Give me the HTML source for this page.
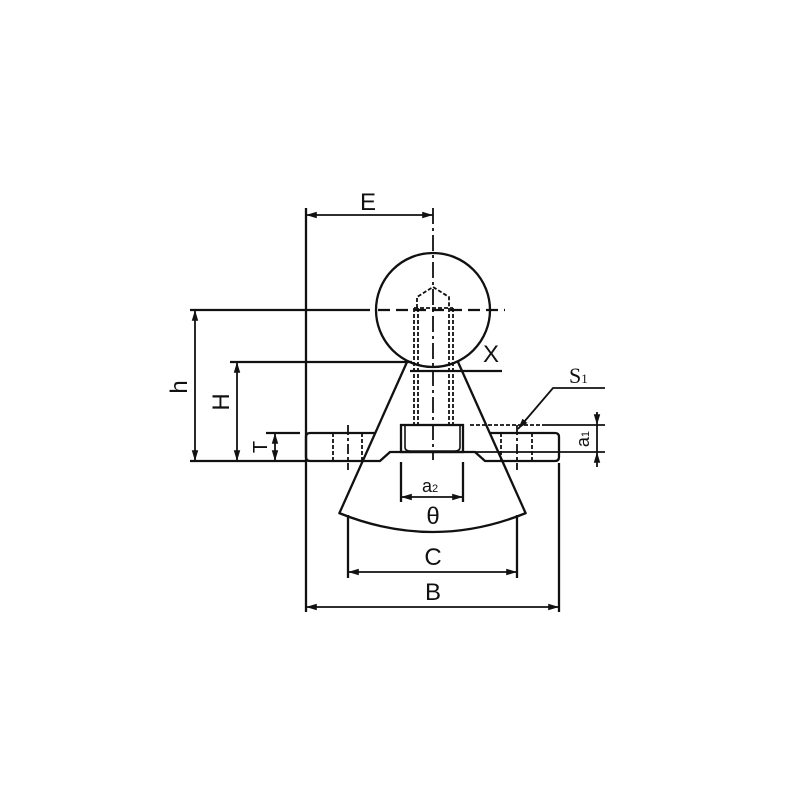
<!DOCTYPE html>
<html><head><style>body{margin:0;background:#fff}svg{display:block}</style></head><body>
<svg width="800" height="800" viewBox="0 0 800 800" xmlns="http://www.w3.org/2000/svg" fill="none" stroke="#111" stroke-width="2.3" font-family="Liberation Sans, DejaVu Sans, sans-serif">
<defs><marker id="a" viewBox="0 0 10 10" refX="10" refY="5" markerWidth="6" markerHeight="6" orient="auto-start-reverse"><path d="M0,2L10,5L0,8z" fill="#111" stroke="none"/></marker></defs>
<line x1="306" y1="208" x2="306" y2="612"/>
<line x1="190" y1="310" x2="370" y2="310"/>
<line x1="378" y1="310" x2="505" y2="310" stroke-dasharray="12,6"/>
<line x1="230" y1="362" x2="412" y2="362"/>
<line x1="266" y1="433" x2="300" y2="433"/>
<line x1="190" y1="461" x2="306" y2="461"/>
<line x1="410" y1="371" x2="502" y2="371"/>
<line x1="559" y1="463" x2="559" y2="612"/>
<line x1="348" y1="515" x2="348" y2="578"/>
<line x1="517" y1="515" x2="517" y2="578"/>
<line x1="401" y1="462" x2="401" y2="502"/>
<line x1="463" y1="462" x2="463" y2="502"/>
<line x1="433" y1="208" x2="433" y2="460" stroke-dasharray="16,4,3,4" stroke-width="1.8"/>
<circle cx="433" cy="310" r="57"/>
<g stroke-dasharray="4,2" stroke-width="1.8">
<path d="M417,308 V297 L433,287 L449,297 V308"/>
<line x1="414" y1="308" x2="453" y2="308"/>
<line x1="414" y1="308" x2="414" y2="425"/><line x1="418" y1="308" x2="418" y2="425"/>
<line x1="449" y1="308" x2="449" y2="425"/><line x1="453" y1="308" x2="453" y2="425"/>
<line x1="470" y1="425" x2="545" y2="425"/>
<line x1="333" y1="433" x2="333" y2="461"/><line x1="362" y1="433" x2="362" y2="461"/>
<line x1="501" y1="433" x2="501" y2="461"/><line x1="532" y1="433" x2="532" y2="461"/>
</g>
<line x1="348" y1="425" x2="348" y2="470" stroke-dasharray="10,3,3,3" stroke-width="1.8"/>
<line x1="517" y1="425" x2="517" y2="470" stroke-dasharray="10,3,3,3" stroke-width="1.8"/>
<rect x="401" y="425" width="62" height="27"/>
<path d="M405,426 V447 Q405,451 410,451 H455 Q460,451 460,447 V426" stroke-width="1.6"/>
<path d="M310,433 H376 M490,433 H555 Q559,433 559,437 V457 Q559,461 555,461 H485 L475,452 H390 L380,461 H310 Q306,461 306,457 V437 Q306,433 310,433"/>
<line x1="407" y1="362" x2="339" y2="514"/>
<line x1="458" y1="362" x2="526" y2="514"/>
<path d="M339,513 Q433,551 526,513"/>
<line x1="306" y1="215" x2="433" y2="215" marker-start="url(#a)" marker-end="url(#a)" stroke-width="1.8"/>
<line x1="195" y1="310" x2="195" y2="461" marker-start="url(#a)" marker-end="url(#a)" stroke-width="1.8"/>
<line x1="237" y1="362" x2="237" y2="461" marker-start="url(#a)" marker-end="url(#a)" stroke-width="1.8"/>
<line x1="275" y1="433" x2="275" y2="461" marker-start="url(#a)" marker-end="url(#a)" stroke-width="1.8"/>
<line x1="348" y1="572" x2="517" y2="572" marker-start="url(#a)" marker-end="url(#a)" stroke-width="1.8"/>
<line x1="306" y1="607" x2="559" y2="607" marker-start="url(#a)" marker-end="url(#a)" stroke-width="1.8"/>
<line x1="401" y1="497" x2="463" y2="497" marker-start="url(#a)" marker-end="url(#a)" stroke-width="1.8"/>
<line x1="597" y1="412" x2="597" y2="425" marker-end="url(#a)" stroke-width="1.8"/>
<line x1="597" y1="467" x2="597" y2="452" marker-end="url(#a)" stroke-width="1.8"/>
<line x1="597" y1="425" x2="597" y2="452" stroke-width="1.8"/>
<line x1="475" y1="452" x2="605" y2="452" stroke-width="1.8"/>
<line x1="545" y1="425" x2="605" y2="425" stroke-width="1.8"/>
<path d="M605,388 H553 L518,429" marker-end="url(#a)" stroke-width="1.8"/>
<g fill="#111" stroke="none" font-size="24">
<text x="368" y="210" text-anchor="middle">E</text>
<text x="433" y="600" text-anchor="middle">B</text>
<text x="433" y="565" text-anchor="middle">C</text>
<text x="433" y="524" text-anchor="middle">θ</text>
<text x="483" y="362">X</text>
<text transform="translate(187,387) rotate(-90)" text-anchor="middle">h</text>
<text transform="translate(229,402) rotate(-90)" text-anchor="middle">H</text>
<text transform="translate(267,447) rotate(-90)" text-anchor="middle" font-size="20">T</text>
<text x="422" y="492" font-size="18">a<tspan font-size="11">2</tspan></text>
<text transform="translate(589,439) rotate(-90)" text-anchor="middle" font-size="18">a<tspan font-size="11">1</tspan></text>
<text x="569" y="383" font-family="Liberation Serif, serif" font-size="22">S<tspan font-size="13">1</tspan></text>
</g>
</svg>
</body></html>
